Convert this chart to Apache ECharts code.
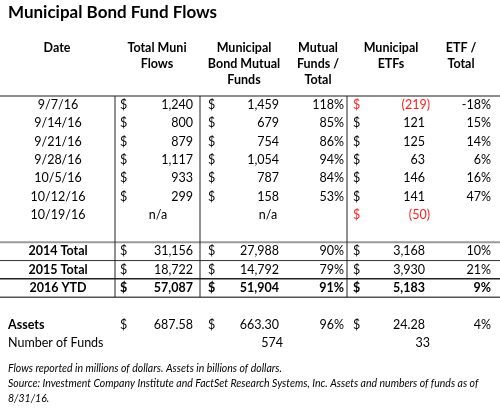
<!DOCTYPE html>
<html>
<head>
<meta charset="utf-8">
<title>Municipal Bond Fund Flows</title>
<script src="https://cdn.jsdelivr.net/npm/echarts@6/dist/echarts.min.js"></script>
<style>
  html, body { margin: 0; padding: 0; background: #fff; }
  #main { width: 500px; height: 415px; }
</style>
</head>
<body>
<div id="main"></div>
<script>
// 周度资金流向(百万美元)
var dates = ['9/7/16', '9/14/16', '9/21/16', '9/28/16', '10/5/16', '10/12/16', '10/19/16'];
var totalFlows = [1240, 800, 879, 1117, 933, 299, null];
var mutualFlows = [1459, 679, 754, 1054, 787, 158, null];
var mutualShare = [118, 85, 86, 94, 84, 53, null];
var etfFlows = [-219, 121, 125, 63, 146, 141, -50];
var etfShare = [-18, 15, 14, 6, 16, 47, null];

// 年度合计
var yearLabels = ['2014 Total', '2015 Total', '2016 YTD'];
var yearTotal = [31156, 18722, 57087];
var yearMutual = [27988, 14792, 51904];
var yearMutualShare = [90, 79, 91];
var yearEtf = [3168, 3930, 5183];
var yearEtfShare = [10, 21, 9];

// 资产(十亿美元)和基金数量
var assetValues = [687.58, 663.30, 24.28];   // total, mutual, etf
var assetShares = [96, 4];                     // mutual / total, etf / total
var fundCounts = [574, 33];                    // mutual, etf

var headers = ['Date', 'Total Muni\nFlows', 'Municipal\nBond Mutual\nFunds', 'Mutual\nFunds /\nTotal', 'Municipal\nETFs', 'ETF /\nTotal'];

// 列布局(像素位置,只是版式)
var col = {
    date: 58,
    totalSign: 120, totalRight: 193, totalNa: 158,
    mutualSign: 208, mutualRight: 279, mutualNa: 268,
    mshareRight: 344,
    etfSign: 353, etfRight: 430,
    eshareRight: 491,
    headerCenters: [57, 157, 244, 318, 391, 461],
    dividers: [115, 200, 347]
};
var FONT = 'Lato, "Open Sans", sans-serif';
var RED = '#ff1f1f';

var rowKeys = dates.concat(['gap1'], yearLabels, ['gap2', 'Assets', 'Number of Funds']);

function fmt(v, dec) {
    var s = Math.abs(v).toFixed(dec || 0).replace(/\B(?=(\d{3})+(?!\d))/g, ',');
    return v < 0 ? '(' + s + ')' : s;
}

var cells = [];
function cell(x, row, text, align, opts) {
    opts = opts || {};
    cells.push({ x: x, row: row, text: text, align: align, bold: !!opts.bold, color: opts.color || '#000' });
}
// 金额列: "$" 靠左, 数字靠右(正数给右括号留位置)
function money(sign, right, row, v, dec, opts) {
    cell(sign, row, '$', 'left', opts);
    cell(v < 0 ? right : right - 5, row, fmt(v, dec), 'right', opts);
}

// 周度行
dates.forEach(function (d, i) {
    cell(col.date, i, d, 'center');
    if (totalFlows[i] == null) {
        cell(col.totalNa, i, 'n/a', 'center');
    } else {
        money(col.totalSign, col.totalRight + 5, i, totalFlows[i]);
    }
    if (mutualFlows[i] == null) {
        cell(col.mutualNa, i, 'n/a', 'center');
    } else {
        money(col.mutualSign, col.mutualRight + 5, i, mutualFlows[i]);
    }
    if (mutualShare[i] != null) cell(col.mshareRight, i, mutualShare[i] + '%', 'right');
    var red = etfFlows[i] < 0 ? { color: RED } : null;
    money(col.etfSign, col.etfRight, i, etfFlows[i], 0, red);
    if (etfShare[i] != null) cell(col.eshareRight, i, etfShare[i] + '%', 'right');
});

// 年度行
yearLabels.forEach(function (lab, j) {
    var r = dates.length + 1 + j;
    var o = { bold: j === 2 };
    cell(col.date, r, lab, 'center', { bold: true });
    money(col.totalSign, col.totalRight + 5, r, yearTotal[j], 0, o);
    money(col.mutualSign, col.mutualRight + 5, r, yearMutual[j], 0, o);
    cell(col.mshareRight, r, yearMutualShare[j] + '%', 'right', o);
    money(col.etfSign, col.etfRight, r, yearEtf[j], 0, o);
    cell(col.eshareRight, r, yearEtfShare[j] + '%', 'right', o);
});

// 资产 / 基金数量
var rA = rowKeys.indexOf('Assets');
cell(8, rA, 'Assets', 'left', { bold: true });
money(col.totalSign, col.totalRight + 5, rA, assetValues[0], 2);
money(col.mutualSign, col.mutualRight + 5, rA, assetValues[1], 2);
cell(col.mshareRight, rA, assetShares[0] + '%', 'right');
money(col.etfSign, col.etfRight, rA, assetValues[2], 2);
cell(col.eshareRight, rA, assetShares[1] + '%', 'right');

var rN = rowKeys.indexOf('Number of Funds');
cell(8, rN, 'Number of Funds', 'left');
cell(col.mutualRight + 4, rN, String(fundCounts[0]), 'right');
cell(col.etfRight, rN, String(fundCounts[1]), 'right');

// 表格线: 行边界(所在行号)及样式
var rules = [
    { row: 0, color: '#8c8c8c', width: 2 },
    { row: 8, color: '#9a9a9a', width: 2 },
    { row: 9, color: '#333', width: 1 },
    { row: 10, color: '#222', width: 1.5 },
    { row: 11, color: '#555', width: 1.5 }
];

var chart = echarts.init(document.getElementById('main'));

var option = {
    backgroundColor: '#fff',
    animation: false,
    title: [{
        text: 'Municipal Bond Fund Flows',
        left: 8, top: 4, padding: 0,
        textStyle: { fontFamily: FONT, fontSize: 17, fontWeight: 'bold', color: '#000' }
    }, {
        text: 'Flows reported in millions of dollars. Assets in billions of dollars.\n' +
              'Source: Investment Company Institute and FactSet Research Systems, Inc. Assets and numbers of funds as of\n' +
              '8/31/16.',
        left: 8, top: 361, padding: 0,
        textStyle: { fontFamily: FONT, fontSize: 10.5, fontStyle: 'italic', fontWeight: 'normal', color: '#000', lineHeight: 15 }
    }],
    grid: { left: 0, right: 0, top: 96, height: 256 },
    xAxis: { type: 'value', min: 0, max: 500, show: false },
    yAxis: { type: 'category', data: rowKeys, inverse: true, show: false },
    series: [{
        // 表格线
        type: 'custom',
        silent: true,
        data: [[0, 0]],
        renderItem: function (params, api) {
            var step = api.size([0, 1])[1];
            function topOf(r) { return api.coord([0, r])[1] - step / 2; }
            var children = rules.map(function (ru) {
                var y = topOf(ru.row);
                return { type: 'line', shape: { x1: 0, y1: y, x2: 500, y2: y },
                         style: { stroke: ru.color, lineWidth: ru.width } };
            });
            var y0 = topOf(0), y1 = topOf(11);
            col.dividers.forEach(function (xv) {
                var x = api.coord([xv, 0])[0];
                children.push({ type: 'line', shape: { x1: x, y1: y0, x2: x, y2: y1 },
                                style: { stroke: '#222', lineWidth: 1 } });
            });
            // 表头
            headers.forEach(function (h, k) {
                var x = api.coord([col.headerCenters[k], 0])[0];
                children.push({ type: 'text', x: x, y: y0 - 56,
                    style: { text: h, align: 'center', verticalAlign: 'top', lineHeight: 16,
                             font: 'bold 12.5px ' + FONT, fill: '#000' } });
            });
            return { type: 'group', children: children };
        }
    }, {
        // 单元格
        type: 'custom',
        silent: true,
        data: cells.map(function (c) { return [c.x, c.row]; }),
        renderItem: function (params, api) {
            var c = cells[params.dataIndex];
            var p = api.coord([api.value(0), api.value(1)]);
            return {
                type: 'text', x: p[0], y: p[1],
                style: { text: c.text, align: c.align, verticalAlign: 'middle',
                         font: (c.bold ? 'bold ' : '') + '12.5px ' + FONT, fill: c.color }
            };
        }
    }]
};

chart.setOption(option);
</script>
</body>
</html>
